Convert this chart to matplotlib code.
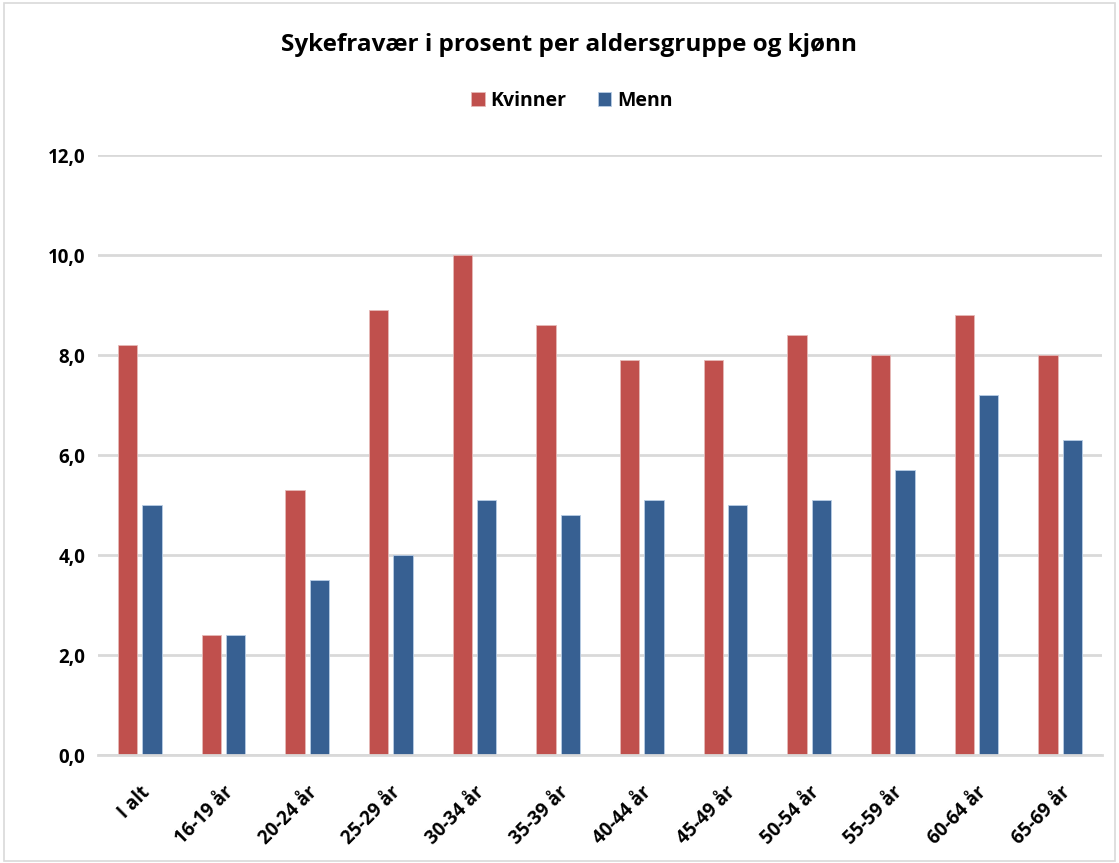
import matplotlib
matplotlib.use("Agg")
import matplotlib.pyplot as plt
import numpy as np
from matplotlib.patches import Rectangle

categories = ["I alt", "16-19 år", "20-24 år", "25-29 år", "30-34 år", "35-39 år",
              "40-44 år", "45-49 år", "50-54 år", "55-59 år", "60-64 år", "65-69 år"]
kvinner = [8.2, 2.4, 5.3, 8.9, 10.0, 8.6, 7.9, 7.9, 8.4, 8.0, 8.8, 8.0]
menn = [5.0, 2.4, 3.5, 4.0, 5.1, 4.8, 5.1, 5.0, 5.1, 5.7, 7.2, 6.3]
yticks = [0, 2, 4, 6, 8, 10, 12]
ytick_labels = ["0,0", "2,0", "4,0", "6,0", "8,0", "10,0", "12,0"]

plt.rcParams['font.family'] = ['Open Sans', 'DejaVu Sans']

fig = plt.figure(figsize=(11.19, 8.63), dpi=100)
ax = fig.add_axes([98/1119, 1 - 755/863, (1102-98)/1119, 600/863])

x = np.arange(len(categories))
w = 0.23
off = 0.145
ax.bar(x - off, kvinner, w, color="#C0504D", edgecolor="#E6B9B8", linewidth=0.6, label="Kvinner", zorder=3)
ax.bar(x + off, menn, w, color="#376092", edgecolor="#B9CDE5", linewidth=0.6, label="Menn", zorder=3)

ax.set_xlim(-0.5, len(categories) - 0.5)
ax.set_ylim(0, 12)
ax.set_yticks(yticks)
ax.set_yticklabels(ytick_labels, fontsize=13.5, fontweight="bold")
ax.set_xticks(x)
ax.set_xticklabels(categories, rotation=45, ha="right", rotation_mode="anchor",
                   fontsize=13.5, fontweight="bold")
ax.tick_params(axis="both", length=0)
ax.tick_params(axis="y", pad=9)
ax.tick_params(axis="x", pad=20)
ax.yaxis.grid(True, color="#D9D9D9", linewidth=2, zorder=0)
for s in ["top", "right", "left"]:
    ax.spines[s].set_visible(False)
ax.spines["bottom"].set_color("#D9D9D9")
ax.spines["bottom"].set_linewidth(2)
ax.spines["bottom"].set_zorder(4)

fig.text(569/1119, 1 - 45/863, "Sykefravær i prosent per aldersgruppe og kjønn",
         ha="center", va="center", fontsize=17.5, fontweight="bold")
leg = fig.legend(loc="center", bbox_to_anchor=(572/1119, 1 - 101/863), ncol=2, frameon=False,
                 prop={"weight": "bold", "size": 14}, handlelength=0.7, handleheight=0.7,
                 handletextpad=0.3, columnspacing=1.6)

fig.patches.append(Rectangle((0.004, 0.002), 0.992, 0.994, transform=fig.transFigure,
                             fill=False, edgecolor="#D9D9D9", linewidth=1.2))

fig.savefig("out.png", dpi=100)
